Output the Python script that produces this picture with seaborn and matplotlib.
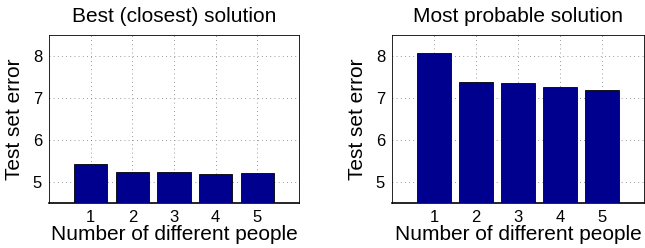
import numpy as np
import pandas as pd
import seaborn as sns
import matplotlib.pyplot as plt

people = [1, 2, 3, 4, 5]
best_err = [5.42, 5.25, 5.24, 5.19, 5.22]
probable_err = [8.06, 7.39, 7.35, 7.27, 7.20]
titles = ["Best (closest) solution", "Most probable solution"]

sns.set_style("white")
plt.rcParams['font.family'] = ['Liberation Sans', 'DejaVu Sans']
plt.rcParams['text.color'] = 'black'
plt.rcParams['axes.labelcolor'] = 'black'
plt.rcParams['xtick.color'] = 'black'
plt.rcParams['ytick.color'] = 'black'

fig = plt.figure(figsize=(6.45, 2.48), dpi=100)
ax1 = fig.add_axes([49/645, 1 - 203/248, 250/645, 168/248])
ax2 = fig.add_axes([392/645, 1 - 203/248, 252/645, 168/248])

for ax, vals, title in zip([ax1, ax2], [best_err, probable_err], titles):
    df = pd.DataFrame({"people": people, "err": vals})
    sns.barplot(data=df, x="people", y="err", native_scale=True, color="#00008f",
                saturation=1, edgecolor="black", linewidth=0.6, width=0.8, ax=ax, zorder=3)
    ax.set_xlim(0, 6)
    ax.set_ylim(4.5, 8.5)
    ax.set_xticks(people)
    ax.set_yticks([5, 6, 7, 8])
    ax.grid(True, linestyle=(0, (1, 4)), color="#777777", linewidth=0.6, zorder=0)
    ax.set_axisbelow(True)
    for s in ax.spines.values():
        s.set_color("black")
        s.set_linewidth(0.6)
    ax.spines["bottom"].set_linewidth(1.2)
    ax.tick_params(axis="both", labelsize=12, length=0, pad=5)
    ax.set_xlabel("Number of different people", fontsize=15, labelpad=0)
    ax.set_ylabel("Test set error", fontsize=15, labelpad=6)
    ax.set_title(title, fontsize=15, pad=9)

fig.savefig("out.png", dpi=100)
